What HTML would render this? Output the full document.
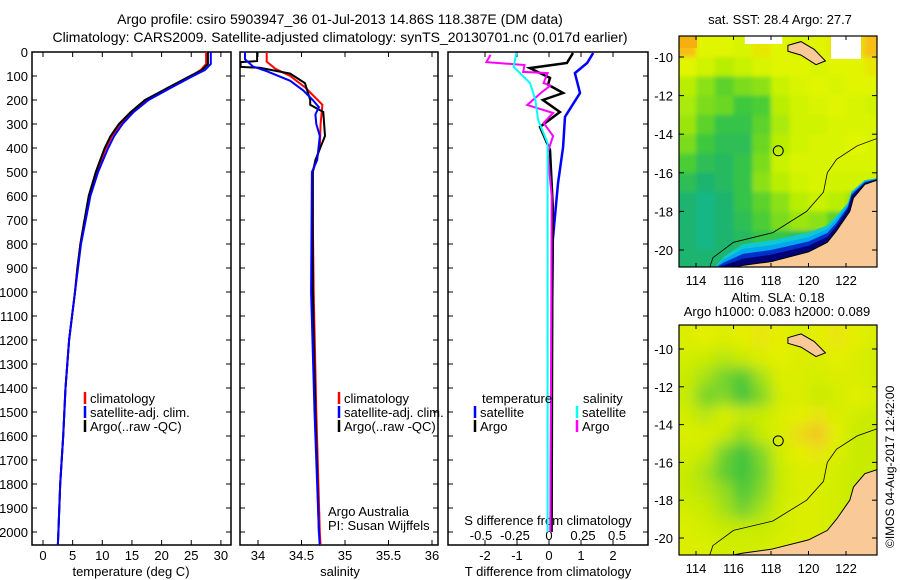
<!DOCTYPE html>
<html><head><meta charset="utf-8"><style>
body{margin:0;background:#fff;}
svg{display:block;font-family:"Liberation Sans",sans-serif;}
text{font-size:13px;fill:#000;}
</style></head><body>
<svg id="fig" width="900" height="580" viewBox="0 0 900 580">
<defs>
<clipPath id="c1"><rect x="32" y="52" width="199" height="493"/></clipPath>
<clipPath id="c2"><rect x="240" y="52" width="198" height="493"/></clipPath>
<clipPath id="c3"><rect x="448" y="52" width="200" height="493"/></clipPath>
<clipPath id="m1"><rect x="679" y="36" width="198" height="231"/></clipPath>
<clipPath id="m2"><rect x="679" y="325" width="198" height="230"/></clipPath>
<filter id="bl1" x="-10%" y="-10%" width="120%" height="120%"><feGaussianBlur stdDeviation="2"/></filter>
<filter id="bl2" x="-10%" y="-10%" width="120%" height="120%"><feGaussianBlur stdDeviation="7"/></filter>
</defs>
<text x="340" y="24" text-anchor="middle" style="font-size:14px">Argo profile: csiro 5903947_36 01-Jul-2013 14.86S 118.387E (DM data)</text>
<text x="340" y="42" text-anchor="middle" style="font-size:14px">Climatology: CARS2009. Satellite-adjusted climatology: synTS_20130701.nc (0.017d earlier)</text>
<text x="780" y="24" text-anchor="middle">sat. SST: 28.4 Argo: 27.7</text>
<text x="778" y="302" text-anchor="middle">Altim. SLA: 0.18</text>
<text x="777" y="316" text-anchor="middle">Argo h1000: 0.083 h2000: 0.089</text>
<text transform="translate(894,548) rotate(-90)" style="font-size:12px">©IMOS 04-Aug-2017 12:42:00</text>
<g id="g"></g>
</svg>
<script>
// ---- data ----
const depthTicks=[0,100,200,300,400,500,600,700,800,900,1000,1100,1200,1300,1400,1500,1600,1700,1800,1900,2000];
const tTicks=[0,5,10,15,20,25,30];
const sTicks=[34,34.5,35,35.5,36];
const dtTicks=[-2,-1,0,1,2];
const dsTicks=[-0.5,-0.25,0,0.25,0.5];
const dsTickLabels=["-0.5","-0.25","0","0.25","0.5"];
const tDepth=[0,50,75,100,150,200,250,300,350,400,500,600,700,800,900,1000,1200,1400,1600,1800,2000,2060];
const tClim=[27.5,27.5,26.6,25,21,17.5,15,13,11.6,10.6,9,7.8,7,6.3,5.8,5.4,4.4,3.8,3.4,2.9,2.6,2.5];
const tSat=[28.3,28.3,27.3,25.3,21.5,17.8,15.3,13.4,12,11,9.3,8,7.2,6.4,5.9,5.4,4.4,3.8,3.4,2.9,2.6,2.5];
const tArgo=[27.8,27.8,26.8,24.8,21,17.2,14.8,12.8,11.4,10.4,8.9,7.7,7,6.3,5.8,5.4,4.4,3.8,3.4,2.9,2.6,2.5];
const sDepthClim=[0,40,70,100,150,220,300,400,500,700,1000,1500,2000,2060];
const sClim=[34.10,34.10,34.2,34.37,34.55,34.74,34.72,34.71,34.63,34.63,34.64,34.67,34.71,34.72];
const sDepthSat=[0,30,60,80,120,160,200,230,260,300,350,450,500,1000,1500,2000,2060];
const sSat=[33.85,33.85,33.94,34.1,34.37,34.52,34.63,34.7,34.66,34.67,34.71,34.68,34.62,34.61,34.65,34.7,34.71];
const sDepthArgo=[0,38,42,62,66,90,130,200,220,250,350,450,500,1000,1500,2000];
const sArgo=[33.99,33.99,33.8,33.8,34.02,34.37,34.54,34.6,34.6,34.75,34.77,34.66,34.63,34.63,34.66,34.7];
const dtDepthSat=[4,46,88,171,270,396,547,783,1200,2000];
const dtSat=[1.38,1.19,0.81,0.97,0.5,0.44,0.28,0.12,0.09,0.05];
const dtDepthArgo=[4,46,67,108,136,171,200,250,312,408,646,1000,2000];
const dtArgo=[0.75,0.56,-0.6,0.03,-0.03,0.44,-0.19,0.34,-0.28,0.03,0.12,0.1,0.08];
const dsDepthArgo=[12,42,54,83,88,129,140,171,221,254,296,350,419,600,2000];
const dsArgo=[-0.43,-0.46,-0.18,-0.19,-0.01,-0.04,0.01,-0.06,-0.16,0.03,-0.04,0.03,-0.01,0.02,0.01];
const dsDepthSat=[4,62,129,200,283,379,500,2000];
const dsSat=[-0.24,-0.26,-0.14,-0.1,-0.08,-0.01,-0.01,-0.01];
const mapLons=[113,114,115,116,117,118,119,120,121,122,123];
const mapLats=[-9,-10,-11,-12,-13,-14,-15,-16,-17,-18,-19,-20];
const sstGrid=[
[29,28.6,28.6,28.5,28.7,28.6,28.5,28.6,28.7,28.8,29],
[28.6,28.4,28.2,28.3,28.5,28.6,28.6,28.5,28.6,28.6,28.7],
[28.2,27.9,27.6,27.8,27.9,28.3,28.5,28.6,28.5,28.6,28.6],
[28.1,27.8,27.7,27.4,27.5,28.2,28.4,28.5,28.6,28.5,28.4],
[28,27.6,27.3,27.3,27.6,28.1,28.4,28.4,28.5,28.5,28.5],
[27.8,27.4,27.2,27.2,27.7,28.2,28.4,28.5,28.5,28.6,28.5],
[27.5,27.2,27.1,27.3,27.8,28.3,28.5,28.5,28.5,28.5,28.5],
[27.2,27.0,27.1,27.3,27.9,28.2,28.4,28.5,28.4,28.4,28.4],
[27.0,26.9,27.0,27.3,27.6,27.9,28.2,28.3,28.2,28,27.8],
[27.0,26.9,27.0,27.2,27.5,27.8,28,27.9,27.6,27.4,27.2],
[27,26.9,27,27.1,27.3,27.3,27.2,27,26.8,26.6,26.5],
[27,27,27,27,27,27,27,26.8,26.5,26.3,26.2]];
const slaGrid=[
[0.12,0.13,0.12,0.13,0.14,0.13,0.12,0.13,0.14,0.13,0.12],
[0.11,0.1,0.09,0.1,0.12,0.13,0.12,0.12,0.13,0.12,0.11],
[0.1,0.08,0.05,0.03,0.08,0.12,0.12,0.11,0.12,0.12,0.11],
[0.1,0.05,0.06,0.02,0.06,0.11,0.12,0.1,0.11,0.13,0.12],
[0.11,0.09,0.12,0.1,0.1,0.12,0.13,0.14,0.12,0.11,0.1],
[0.12,0.12,0.1,0.07,0.1,0.12,0.15,0.17,0.13,0.1,0.1],
[0.11,0.1,0.05,0.02,0.06,0.11,0.13,0.14,0.12,0.1,0.1],
[0.1,0.08,0.04,0.02,0.05,0.1,0.12,0.12,0.11,0.1,0.1],
[0.1,0.09,0.07,0.03,0.06,0.1,0.12,0.12,0.11,0.1,0.1],
[0.11,0.1,0.08,0.05,0.08,0.11,0.12,0.12,0.11,0.1,0.1],
[0.12,0.11,0.1,0.1,0.1,0.11,0.12,0.12,0.11,0.1,0.1],
[0.12,0.12,0.11,0.11,0.11,0.12,0.12,0.12,0.11,0.1,0.1]];
const argoLon=118.387, argoLat=-14.86;

// ---- helpers ----
const NS="http://www.w3.org/2000/svg";
const G=document.getElementById('g');
function mk(tag,attrs,parent,txt){const e=document.createElementNS(NS,tag);for(const k in attrs)e.setAttribute(k,attrs[k]);if(txt!==undefined)e.textContent=txt;(parent||G).appendChild(e);return e;}
const yD=d=>52+0.24*d;
const xT=t=>43+5.93*t;
const xS=s=>258+87*(s-34);
const xDT=t=>549+32*t;
const xDS=s=>549+136*s;
const lonX=l=>696+(l-114)*18.75;
const latY1=l=>57+(-10-l)*19.3;
const latY2=l=>349+(-10-l)*18.9;
function pts(xs,ds,fx){return xs.map((v,i)=>fx(v).toFixed(1)+","+yD(ds[i]).toFixed(1)).join(" ");}
function line(xs,ds,fx,col,w,clip,name){const p=mk('polyline',{points:pts(xs,ds,fx),fill:'none',stroke:col,'stroke-width':w,'clip-path':'url(#'+clip+')'});return p;}

// ---- panel frames & axes ----
const panels=[[32,199,'c1'],[240,198,'c2'],[448,200,'c3']];
panels.forEach((p,i)=>{
  const r=mk('rect',{x:p[0],y:52,width:p[1],height:493,fill:'none',stroke:'#000','stroke-width':1.5});
  
  
  depthTicks.forEach(d=>{mk('line',{x1:p[0],x2:p[0]+5,y1:yD(d),y2:yD(d),stroke:'#000'});mk('line',{x1:p[0]+p[1]-5,x2:p[0]+p[1],y1:yD(d),y2:yD(d),stroke:'#000'});});
});
depthTicks.forEach(d=>{const t=mk('text',{x:28,y:yD(d)+5,'text-anchor':'end'},G,String(d));

});
function xticks(vals,labels,fx,y,name){vals.forEach((v,i)=>{const x=fx(v);mk('line',{x1:x,x2:x,y1:52,y2:57,stroke:'#000'});mk('line',{x1:x,x2:x,y1:540,y2:545,stroke:'#000'});const t=mk('text',{x:x,y:y,'text-anchor':'middle'},G,labels[i]);

});}
xticks(tTicks,tTicks.map(String),xT,560,'temperature-tick-label');
xticks(sTicks,sTicks.map(String),xS,560,'salinity-tick-label');
xticks(dtTicks,dtTicks.map(String),xDT,560,'t-diff-tick-label');
dsTicks.forEach((v,i)=>{const t=mk('text',{x:xDS(v),y:540,'text-anchor':'middle'},G,dsTickLabels[i]);

});
[[131,'temperature (deg C)','temperature-axis-title'],[340,'salinity','salinity-axis-title'],[548,'T difference from climatology','t-diff-axis-title']].forEach(a=>{const t=mk('text',{x:a[0],y:576,'text-anchor':'middle'},G,a[1]);

});
{const t=mk('text',{x:548,y:525,'text-anchor':'middle'},G,'S difference from climatology');

}

// ---- series ----
line(tClim,tDepth,xT,'#f00',2,'c1','temp-climatology-line');
line(tArgo,tDepth,xT,'#000',2,'c1','temp-argo-line');
line(tSat,tDepth,xT,'#00f',2,'c1','temp-satellite-line');
line(sClim,sDepthClim,xS,'#f00',2,'c2','sal-climatology-line');
line(sArgo,sDepthArgo,xS,'#000',2,'c2','sal-argo-line');
line(sSat,sDepthSat,xS,'#00f',2,'c2','sal-satellite-line');
line(dtSat,dtDepthSat,xDT,'#00f',2.5,'c3','tdiff-satellite-line');
line(dtArgo,dtDepthArgo,xDT,'#000',2.5,'c3','tdiff-argo-line');
line(dsArgo,dsDepthArgo,xDS,'#f0f',2,'c3','sdiff-argo-line');
line(dsSat,dsDepthSat,xDS,'#0ff',2,'c3','sdiff-satellite-line');

// ---- legends ----
function leg(x,y,col,label,name){const l=mk('line',{x1:x,x2:x,y1:y-11,y2:y+1,stroke:col,'stroke-width':2.5});const t=mk('text',{x:x+5,y:y},G,label);



}
leg(85,403,'#f00','climatology','legend-climatology');
leg(85,417,'#00f','satellite-adj. clim.','legend-satellite');
leg(85,431,'#000','Argo(..raw -QC)','legend-argo');
leg(339,403,'#f00','climatology','legend2-climatology');
leg(339,417,'#00f','satellite-adj. clim.','legend2-satellite');
leg(339,431,'#000','Argo(..raw -QC)','legend2-argo');
{const t=mk('text',{x:482,y:403},G,'temperature');


const u=mk('text',{x:583,y:403},G,'salinity');

}
leg(475,417,'#00f','satellite','legend-t-satellite');
leg(475,431,'#000','Argo','legend-t-argo');
leg(577,417,'#0ff','satellite','legend-s-satellite');
leg(577,431,'#f0f','Argo','legend-s-argo');
{const t=mk('text',{x:328,y:516},G,'Argo Australia');


const u=mk('text',{x:328,y:530},G,'PI: Susan Wijffels');

}

// ---- maps ----
function lerpCol(stops,v){if(v<=stops[0][0])return stops[0][1];for(let i=1;i<stops.length;i++){if(v<=stops[i][0]){const a=stops[i-1],b=stops[i],f=(v-a[0])/(b[0]-a[0]);return a[1].map((x,k)=>Math.round(x+(b[1][k]-x)*f));}}return stops[stops.length-1][1];}
const sstStops=[[26.2,[0,60,200]],[26.6,[0,190,200]],[27,[30,180,110]],[27.4,[60,200,60]],[27.9,[140,225,20]],[28.3,[200,242,0]],[28.6,[225,245,0]],[29,[248,190,20]]];
const slaStops=[[0.02,[60,195,60]],[0.06,[130,215,40]],[0.1,[200,235,0]],[0.13,[228,240,0]],[0.17,[242,195,40]]];
function drawMap(grid,stops,latY,clip,blur,name){
  const g=mk('g',{'clip-path':'url(#'+clip+')'});
  
  
  const inner=mk('g',{'clip-path':'url(#'+clip+')'},g);
  const cg=mk('g',{filter:'url(#'+blur+')'},inner);
  grid.forEach((row,r)=>row.forEach((v,c)=>{const x0=lonX(mapLons[c]),y0=latY(mapLats[r]);const col=lerpCol(stops,v);
    const ex=c===0?-20:0, ey=r===0?-20:0, ew=c===row.length-1?20:0, eh=r===grid.length-1?20:0;
    mk('rect',{x:x0+ex,y:y0+ey,width:lonX(mapLons[c]+1)-x0-ex+ew+0.5,height:latY(mapLats[r]-1)-y0-ey+eh+0.5,fill:'rgb('+col.join(',')+')'},cg);}));
  return g;
}
function P(arr,latY){return arr.map(p=>lonX(p[0]).toFixed(1)+','+latY(p[1]).toFixed(1)).join(' ');}
const coastPts=[[115.5,-21.5],[115.5,-21],[116.5,-20.8],[118,-20.6],[120,-20.1],[121,-19.6],[121.5,-19],[122.2,-18],[122.4,-17.3],[123,-16.6],[123.6,-16.4],[124,-16.3],[124,-21.5]];
function band(latY,off){return P([[114.9,-21.5],[114.9,-21],[115.5,-21+off*0.6],[116.5,-20.8+off],[118,-20.6+off],[120,-20.1+off*0.9],[121,-19.6+off*0.8],[121.5,-19+off*0.7],[122.1,-18+off*0.4],[122.3,-17.3+off*0.3],[123,-16.6+off*0.2],[123.6,-16.4+off*0.1],[124,-16.3],[124,-21.5]],latY);}
const isoPts=[[114.7,-21],[114.9,-20.4],[116,-19.6],[118.1,-19.1],[119.9,-18],[120.8,-17],[121,-16],[121.5,-15.3],[122.6,-14.6],[124,-14.1]];
const islandPts=[[118.9,-9.4],[119.6,-9.2],[120.3,-9.6],[120.9,-10.2],[120.4,-10.4],[119.6,-9.9],[118.9,-9.7]];
[[sstGrid,sstStops,latY1,'m1',36,267,'bl1','sst-map'],[slaGrid,slaStops,latY2,'m2',325,555,'bl2','sla-map']].forEach((m,i)=>{
  const g=drawMap(m[0],m[1],m[2],m[3],m[6],m[7]);
  if(i===0){
    mk('polygon',{points:band(m[2],1.1),fill:'#10c8d0'},g);
    mk('polygon',{points:band(m[2],0.85),fill:'#00a8f0'},g);
    mk('polygon',{points:band(m[2],0.6),fill:'#0030c8'},g);
    mk('polygon',{points:band(m[2],0.35),fill:'#000078'},g);
    mk('rect',{x:lonX(116.6),y:36,width:lonX(118.6)-lonX(116.6),height:8,fill:'#fff'},g);
    mk('rect',{x:lonX(121.2),y:36,width:lonX(122.8)-lonX(121.2),height:latY1(-10.1)-36,fill:'#fff'},g);
    mk('rect',{x:679,y:36,width:18,height:12,fill:'#f5b010'},g);
  }
  const land=mk('polygon',{points:P(coastPts,m[2]),fill:'#fac998',stroke:'#000','stroke-width':1},g);
  
  
  mk('polygon',{points:P(islandPts,m[2]),fill:'#fac998',stroke:'#000','stroke-width':1},g);
  mk('polyline',{points:P(isoPts,m[2]),fill:'none',stroke:'#000','stroke-width':0.8},g);
  const c=mk('circle',{cx:lonX(argoLon),cy:m[2](argoLat),r:5,fill:'none',stroke:'#000','stroke-width':1});
  
  
  const fr=mk('rect',{x:679,y:m[4],width:198,height:m[5]-m[4],fill:'none',stroke:'#000','stroke-width':1.2});
  
  
  [-10,-12,-14,-16,-18,-20].forEach(l=>{const y=m[2](l);mk('line',{x1:679,x2:684,y1:y,y2:y,stroke:'#000'});mk('line',{x1:872,x2:877,y1:y,y2:y,stroke:'#000'});
    const t=mk('text',{x:673,y:y+5,'text-anchor':'end'},G,String(l));
    
    });
  [114,116,118,120,122].forEach(l=>{const x=lonX(l);mk('line',{x1:x,x2:x,y1:m[4],y2:m[4]+4,stroke:'#000'});mk('line',{x1:x,x2:x,y1:m[5]-4,y2:m[5],stroke:'#000'});
    const t=mk('text',{x:x,y:m[5]+18,'text-anchor':'middle'},G,String(l));
    
    });
});
</script>
</body></html>
